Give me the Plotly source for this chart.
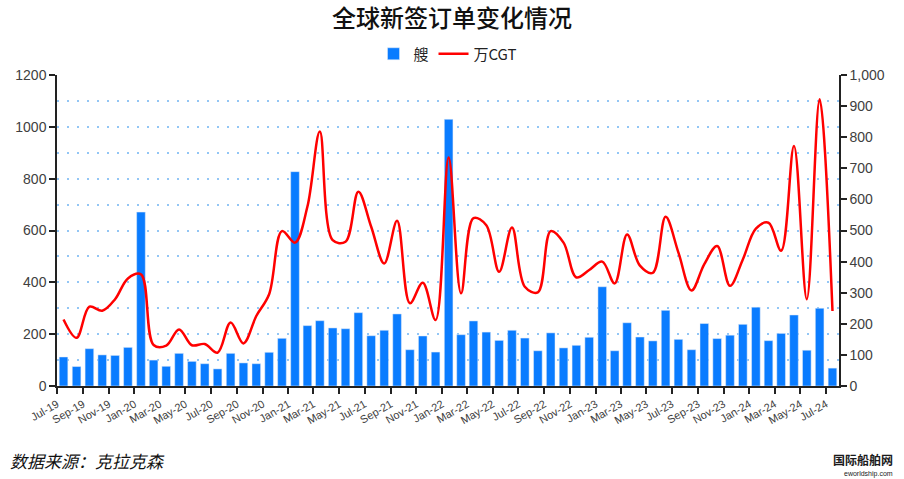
import pandas as pd
import plotly.graph_objects as go

months = pd.date_range("2019-07-01", periods=61, freq="MS")

ships = [112, 75, 144, 120, 118, 149, 671, 100, 76, 126, 95, 86, 66, 126, 89, 86, 130, 184,
         827, 233, 252, 224, 221, 283, 194, 215, 278, 140, 193, 131,
         1029, 198, 251, 208, 176, 215, 185, 136, 205, 147, 157, 188,
         383, 136, 244, 189, 174, 292, 180, 140, 241, 183, 196, 238,
         304, 175, 203, 274, 138, 300, 69]

cgt = [214, 155, 255, 242, 279, 346, 359, 132, 130, 182, 131, 135, 107, 204, 137, 225, 295, 498,
       461, 577, 818, 469, 464, 625, 512, 394, 531, 266, 332, 212,
       735, 298, 540, 517, 367, 510, 319, 301, 498, 461, 349, 373,
       400, 330, 487, 387, 364, 544, 429, 307, 392, 450, 322, 407,
       506, 525, 435, 772, 279, 922, 241]

W, H = 904, 479
L, R, T, B = 57, 839, 75, 386
pw, ph = R - L, B - T

fig = go.Figure()
fig.add_trace(go.Bar(
    x=months, y=ships, name="艘", marker_color="#0A7CFF",
    xperiod="M1", xperiodalignment="middle",
    width=20.5 * 86400000, yaxis="y",
))
fig.add_trace(go.Scatter(
    x=months, y=cgt, name="万CGT", mode="lines",
    line=dict(color="#FF0000", width=2.5, shape="spline", smoothing=1.0),
    xperiod="M1", xperiodalignment="middle", yaxis="y2",
))

tickfont = dict(family="Liberation Sans, Arial, sans-serif", size=14, color="#404040")
grid_color = "#93C6F5"
grid_dash = "2px,8px"

fig.update_layout(
    width=W, height=H,
    margin=dict(l=L, r=W - R, t=T, b=H - B, autoexpand=False),
    plot_bgcolor="white", paper_bgcolor="white",
    title=dict(text="全球新签订单变化情况", x=0.5, xanchor="center",
               y=1 - 19 / H, yanchor="middle", yref="container",
               font=dict(family="Noto Sans CJK SC", size=24, color="#111111", weight=500)),
    legend=dict(orientation="h", x=0.5, xanchor="center", y=1 - 54 / H, yanchor="middle",
                yref="container", font=dict(family="Noto Sans CJK SC", size=15, color="#222222"),
                itemwidth=30, traceorder="normal"),
    showlegend=True,
    xaxis=dict(
        type="date", range=["2019-07-01", "2024-08-01"],
        dtick="M2", tick0="2019-07-01", tickformat="%b-%y", tickangle=-30,
        ticks="outside", ticklen=6, tickcolor="#222222", tickwidth=1.5,
        showline=True, linecolor="#222222", linewidth=1.5, showgrid=False,
        tickfont=dict(family="Liberation Sans, Arial, sans-serif", size=11, color="#404040"),
    ),
    yaxis=dict(
        range=[0, 1200], dtick=200, tick0=0,
        ticks="outside", ticklen=6, tickcolor="#222222", tickwidth=1.5,
        showline=True, linecolor="#222222", linewidth=1.5,
        showgrid=True, gridcolor=grid_color, griddash=grid_dash, gridwidth=2,
        minor=dict(dtick=100, showgrid=True, gridcolor=grid_color, griddash=grid_dash, gridwidth=2),
        zeroline=False, tickfont=tickfont,
    ),
    yaxis2=dict(
        range=[0, 1000], dtick=100, tick0=0, tickformat=",d",
        overlaying="y", side="right",
        ticks="outside", ticklen=6, tickcolor="#222222", tickwidth=1.5,
        showline=True, linecolor="#222222", linewidth=1.5,
        showgrid=False, zeroline=False, tickfont=tickfont,
    ),
)

fig.add_annotation(
    text="<i>数据来源：克拉克森</i>", xref="paper", yref="paper",
    x=(8 - L) / pw, y=(B - 460) / ph, xanchor="left", yanchor="middle",
    showarrow=False, font=dict(family="Noto Sans CJK SC", size=17, color="#111111"),
)
fig.add_annotation(
    text="<b>国际船舶网</b>", xref="paper", yref="paper",
    x=(894 - L) / pw, y=(B - 459) / ph, xanchor="right", yanchor="middle",
    showarrow=False, font=dict(family="Noto Sans CJK SC", size=12, color="#1a1a1a"),
    borderpad=0,
)
fig.add_annotation(
    text="eworldship.com", xref="paper", yref="paper",
    x=(894 - L) / pw, y=(B - 474) / ph, xanchor="right", yanchor="middle",
    showarrow=False, font=dict(family="Liberation Sans, Arial, sans-serif", size=7, color="#1a1a1a"),
    borderpad=0,
)

fig.write_html("out.html", config={"displayModeBar": False},
               post_script="document.body.style.margin='0';")
